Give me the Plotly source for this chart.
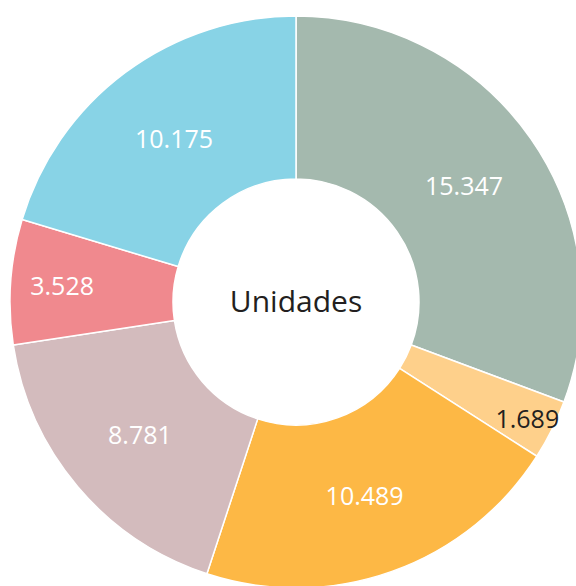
import plotly.graph_objects as go

labels = ["A", "B", "C", "D", "E", "F"]
values = [15347, 1689, 10489, 8781, 3528, 10175]
value_text = ["15.347", "1.689", "10.489", "8.781", "3.528", "10.175"]
colors = ["#A4B9AE", "#FED08B", "#FDB845", "#D3BBBD", "#F0898E", "#88D3E6"]
text_colors = ["#FFFFFF", "#231F20", "#FFFFFF", "#FFFFFF", "#FFFFFF", "#FFFFFF"]
center_title = "Unidades"

W, H = 600, 600
cx, cy, R = 296, 302, 286

fig = go.Figure(go.Pie(
    labels=labels,
    values=values,
    text=value_text,
    textinfo="text",
    textposition="inside",
    insidetextorientation="horizontal",
    insidetextfont=dict(family="Open Sans", size=25, color=text_colors),
    marker=dict(colors=colors, line=dict(color="#FFFFFF", width=1.5)),
    hole=123 / R,
    sort=False,
    direction="clockwise",
    rotation=0,
    title=dict(text=center_title, position="middle center",
               font=dict(family="Open Sans", size=30, color="#231F20")),
    domain=dict(x=[(cx - R) / W, (cx + R) / W],
                y=[(H - (cy + R)) / H, (H - (cy - R)) / H]),
    hoverinfo="skip",
))

fig.update_layout(
    width=W, height=H,
    margin=dict(l=0, r=0, t=0, b=0),
    showlegend=False,
    paper_bgcolor="#FFFFFF",
    plot_bgcolor="#FFFFFF",
    uniformtext=dict(minsize=25, mode="show"),
)

fig.write_html(
    "out.html",
    config={"displayModeBar": False},
    post_script="document.body.style.margin='0';document.body.style.overflow='hidden';document.documentElement.style.overflow='hidden';",
)
